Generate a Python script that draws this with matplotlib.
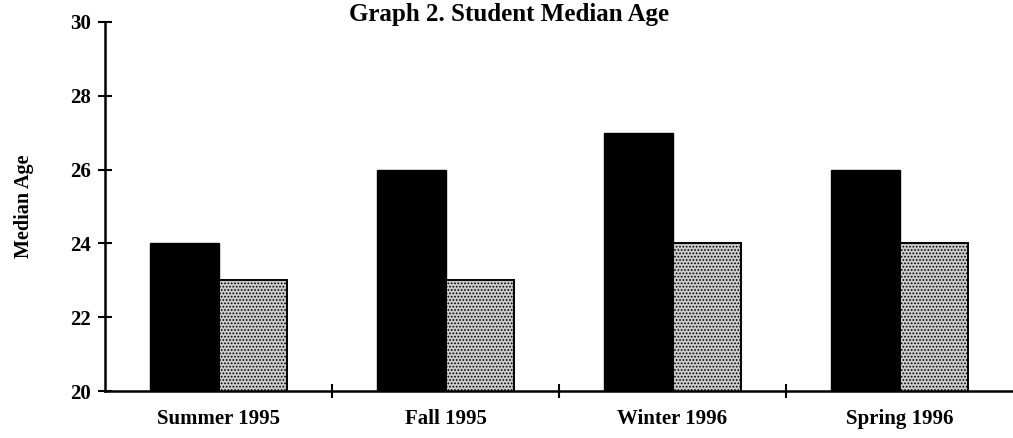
import matplotlib.pyplot as plt
import numpy as np

# Median age per term, two groups of students
terms = ['Summer 1995', 'Fall 1995', 'Winter 1996', 'Spring 1996']
group_a = [24, 26, 27, 26]
group_b = [23, 23, 24, 24]

plt.rcParams['font.family'] = ['Liberation Serif', 'DejaVu Serif']
plt.rcParams['font.weight'] = 'bold'
plt.rcParams['hatch.color'] = '#858585'
plt.rcParams['hatch.linewidth'] = 0.8

fig = plt.figure(figsize=(10.13, 4.38), dpi=100)
ax = fig.add_axes([0.1037, 0.1073, 0.8963, 0.8425])

x = np.arange(len(terms))
width = 0.3

# dark bars on the left, stippled grey bars on the right
ax.bar(x - width / 2, group_a, width, color='black', edgecolor='black')
ax.bar(x + width / 2, group_b, width, color='#cbcbcb', edgecolor='black',
       linewidth=1.4, hatch='.....')

ax.set_ylim(20, 30)
ax.set_xlim(-0.5, 3.5)
ax.set_yticks(range(20, 31, 2))
ax.set_xticks(x)
ax.set_xticklabels(terms, fontsize=15, fontweight='bold')
ax.set_xticks(x[:-1] + 0.5, minor=True)

for label in ax.get_yticklabels():
    label.set_fontsize(15)
    label.set_fontweight('bold')

# ticks cross the axis lines
ax.tick_params(axis='y', direction='inout', length=10, width=1.5, pad=5)
ax.tick_params(axis='x', which='major', length=0, pad=13)
ax.tick_params(axis='x', which='minor', direction='inout', length=10, width=1.5)

ax.spines['top'].set_visible(False)
ax.spines['right'].set_visible(False)
ax.spines['left'].set_linewidth(1.8)
ax.spines['bottom'].set_linewidth(1.8)

ax.set_ylabel('Median Age', fontsize=14.5, fontweight='bold', labelpad=26)

fig.text(0.503, 0.968, 'Graph 2. Student Median Age', ha='center', va='center',
         fontsize=18, fontweight='bold')

fig.savefig('out.png', dpi=100)
